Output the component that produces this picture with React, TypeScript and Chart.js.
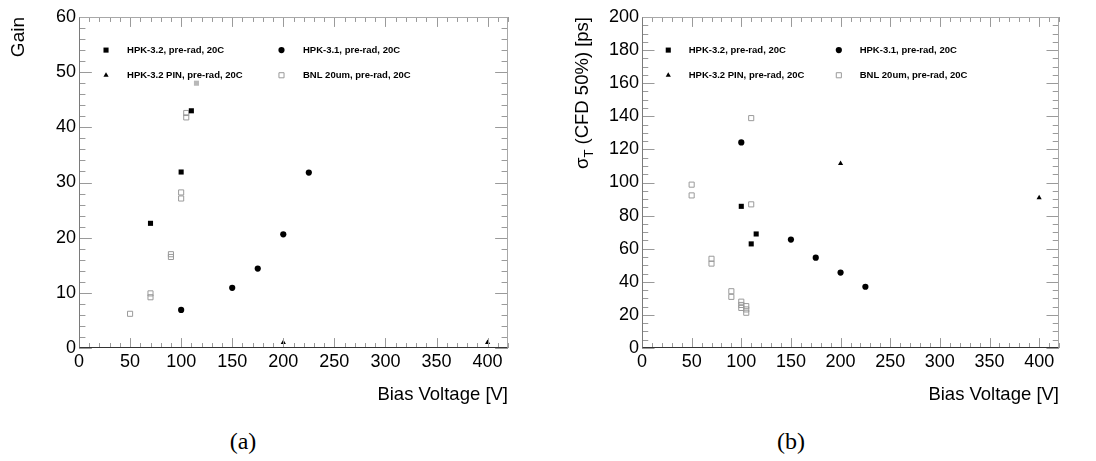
import React, { useEffect, useRef } from 'react';
import { Chart, registerables } from 'chart.js';

Chart.register(...registerables);

// ---------- Panel (a): Gain vs bias voltage ----------
const gainHpk32X = [70, 100, 110, 115];
const gainHpk32Y = [22.6, 31.9, 43.0, 48.0];
const gainHpk31X = [100, 150, 175, 200, 225];
const gainHpk31Y = [6.9, 10.9, 14.4, 20.6, 31.8];
const gainPinX = [200, 400];
const gainPinY = [1.0, 1.0];
const gainBnlX = [50, 70, 70, 90, 90, 100, 100, 105, 105];
const gainBnlY = [6.2, 9.9, 9.2, 17.0, 16.5, 28.2, 27.1, 42.6, 41.8];

// ---------- Panel (b): time resolution vs bias voltage ----------
const timeHpk32X = [100, 110, 115];
const timeHpk32Y = [85.6, 62.9, 68.9];
const timeHpk31X = [100, 150, 175, 200, 225];
const timeHpk31Y = [124.2, 65.5, 54.6, 45.6, 37.0];
const timePinX = [200, 400];
const timePinY = [111.5, 90.8];
const timeBnlX = [50, 50, 70, 70, 90, 90, 100, 100, 100, 105, 105, 105, 110, 110];
const timeBnlY = [98.7, 92.2, 53.9, 51.0, 34.3, 30.9, 28.0, 26.0, 24.2, 25.3, 23.3, 21.3, 138.9, 86.8];

// ---------- labels & ticks ----------
const seriesLabels = [
  'HPK-3.2, pre-rad, 20C',
  'HPK-3.1, pre-rad, 20C',
  'HPK-3.2 PIN, pre-rad, 20C',
  'BNL 20um, pre-rad, 20C',
];
const xTickValues = [0, 50, 100, 150, 200, 250, 300, 350, 400];
const gainTickValues = [0, 10, 20, 30, 40, 50, 60];
const timeTickValues = [0, 20, 40, 60, 80, 100, 120, 140, 160, 180, 200];
const xAxisTitle = 'Bias Voltage [V]';
const gainAxisTitle = 'Gain';
const timeAxisTitleParts = ['σ', 'T', ' (CFD 50%) [ps]'];
const panelCaptions = ['(a)', '(b)'];

const FONT = '"Liberation Sans", Arial, Helvetica, sans-serif';
Chart.defaults.font.family = FONT;

const seriesStyles = [
  { pointStyle: 'rect', radius: 3.6, fill: '#000000', stroke: '#000000', bw: 0 },
  { pointStyle: 'circle', radius: 3.1, fill: '#000000', stroke: '#000000', bw: 0 },
  { pointStyle: 'triangle', radius: 3.0, fill: '#000000', stroke: '#000000', bw: 0 },
  { pointStyle: 'rect', radius: 3.6, fill: 'rgba(0,0,0,0)', stroke: '#9a9a9a', bw: 1 },
];

const zip = (xs: number[], ys: number[]) => xs.map((x, i) => ({ x, y: ys[i] }));

function drawMarker(ctx: CanvasRenderingContext2D, s: any, x: number, y: number) {
  const r = s.radius;
  ctx.beginPath();
  if (s.pointStyle === 'rect') {
    const h = Math.SQRT1_2 * r;
    ctx.rect(x - h, y - h, 2 * h, 2 * h);
  } else if (s.pointStyle === 'circle') {
    ctx.arc(x, y, r, 0, Math.PI * 2);
  } else {
    let rad = 0;
    ctx.moveTo(x + Math.sin(rad) * r, y - Math.cos(rad) * r);
    rad += (2 * Math.PI) / 3;
    ctx.lineTo(x + Math.sin(rad) * r, y - Math.cos(rad) * r);
    rad += (2 * Math.PI) / 3;
    ctx.lineTo(x + Math.sin(rad) * r, y - Math.cos(rad) * r);
    ctx.closePath();
  }
  ctx.fillStyle = s.fill;
  ctx.fill();
  if (s.bw > 0) {
    ctx.lineWidth = s.bw;
    ctx.strokeStyle = s.stroke;
    ctx.stroke();
  }
}

const rootStylePlugin = {
  id: 'rootStyle',
  afterDatasetsDraw(chart: any, _args: any, opts: any) {
    const { ctx, chartArea: a } = chart;
    const xs = chart.scales.x;
    const ys = chart.scales.y;
    const L = a.left, R = a.right, T = a.top, B = a.bottom;
    const W = R - L, H = B - T;
    ctx.save();

    // legend box (semi-transparent, covers data beneath)
    ctx.fillStyle = 'rgba(255,255,255,0.72)';
    ctx.fillRect(L + 0.026 * W, T + 0.063 * H, (0.812 - 0.026) * W, (0.215 - 0.063) * H);
    chart.data.datasets.forEach((ds: any, i: number) => {
      const col = i % 2;
      const row = Math.floor(i / 2);
      const mx = L + [0.063, 0.472][col] * W;
      const tx = L + [0.112, 0.522][col] * W;
      const my = T + [0.1, 0.176][row] * H;
      drawMarker(ctx, seriesStyles[i], mx, my);
      ctx.fillStyle = '#000';
      ctx.font = 'bold 9.5px ' + FONT;
      ctx.textBaseline = 'middle';
      ctx.textAlign = 'left';
      ctx.fillText(ds.label, tx, my);
    });

    // inward ticks on all four sides
    ctx.lineWidth = 1;
    ctx.strokeStyle = '#9a9a9a';
    ctx.beginPath();
    const xMinorStep = 10;
    for (let i = 0; i * xMinorStep <= xs.max + 1e-9; i++) {
      const v = i * xMinorStep;
      const px = Math.round(xs.getPixelForValue(v)) + 0.5;
      const len = xTickValues.includes(v) ? 0.03 * H : 0.015 * H;
      ctx.moveTo(px, B);
      ctx.lineTo(px, B - len);
      ctx.moveTo(px, T);
      ctx.lineTo(px, T + len);
    }
    const yStep = opts.yMinorStep;
    const yMajors: number[] = opts.yMajors;
    for (let i = 0; i * yStep <= ys.max + 1e-9; i++) {
      const v = i * yStep;
      const py = Math.round(ys.getPixelForValue(v)) + 0.5;
      const len = yMajors.includes(v) ? 0.03 * W : 0.015 * W;
      ctx.moveTo(L, py);
      ctx.lineTo(L + len, py);
      ctx.moveTo(R, py);
      ctx.lineTo(R - len, py);
    }
    ctx.stroke();

    // frame
    const l = Math.round(L) + 0.5, r = Math.round(R) - 0.5, t = Math.round(T) + 0.5, b = Math.round(B) - 0.5;
    ctx.strokeStyle = '#a8a8a8';
    ctx.beginPath();
    ctx.moveTo(l, t); ctx.lineTo(r, t); ctx.lineTo(r, b);
    ctx.stroke();
    ctx.strokeStyle = '#7a7a7a';
    ctx.beginPath();
    ctx.moveTo(l, t); ctx.lineTo(l, b);
    ctx.stroke();
    ctx.strokeStyle = '#333';
    ctx.beginPath();
    ctx.moveTo(l, b); ctx.lineTo(r, b);
    ctx.stroke();

    // custom y title with subscript
    if (opts.yTitleParts) {
      const [p1, p2, p3] = opts.yTitleParts;
      const big = '18.5px ' + FONT;
      const small = '13px ' + FONT;
      ctx.font = big;
      const w1 = ctx.measureText(p1).width;
      const w3 = ctx.measureText(p3).width;
      ctx.font = small;
      const w2 = ctx.measureText(p2).width;
      const total = w1 + w2 + w3;
      ctx.translate(opts.yTitleBaselineX, T);
      ctx.rotate(-Math.PI / 2);
      ctx.fillStyle = '#000';
      ctx.textAlign = 'left';
      ctx.textBaseline = 'alphabetic';
      let x = -total;
      ctx.font = big;
      ctx.fillText(p1, x, 0);
      x += w1;
      ctx.font = small;
      ctx.fillText(p2, x, 4.5);
      x += w2;
      ctx.font = big;
      ctx.fillText(p3, x, 0);
    }
    ctx.restore();
  },
};

function makeConfig(panel: 'a' | 'b') {
  const isA = panel === 'a';
  const data = isA
    ? [zip(gainHpk32X, gainHpk32Y), zip(gainHpk31X, gainHpk31Y), zip(gainPinX, gainPinY), zip(gainBnlX, gainBnlY)]
    : [zip(timeHpk32X, timeHpk32Y), zip(timeHpk31X, timeHpk31Y), zip(timePinX, timePinY), zip(timeBnlX, timeBnlY)];
  const yTicks = isA ? gainTickValues : timeTickValues;
  return {
    type: 'scatter',
    data: {
      datasets: data.map((d, i) => ({
        label: seriesLabels[i],
        data: d,
        showLine: false,
        pointStyle: seriesStyles[i].pointStyle,
        pointRadius: seriesStyles[i].radius,
        pointHoverRadius: seriesStyles[i].radius,
        pointBackgroundColor: seriesStyles[i].fill,
        pointBorderColor: seriesStyles[i].stroke,
        pointBorderWidth: seriesStyles[i].bw,
      })),
    },
    options: {
      animation: false,
      responsive: false,
      devicePixelRatio: 1,
      layout: { padding: { left: 0, top: 17, right: isA ? 40 : 37, bottom: 0 } },
      plugins: {
        legend: { display: false },
        tooltip: { enabled: false },
        rootStyle: isA
          ? { yMinorStep: 2, yMajors: gainTickValues }
          : { yMinorStep: 5, yMajors: timeTickValues, yTitleParts: timeAxisTitleParts, yTitleBaselineX: 40 },
      },
      scales: {
        x: {
          type: 'linear',
          min: 0,
          max: 420,
          grid: { display: false, drawTicks: false },
          border: { display: false },
          afterBuildTicks: (s: any) => {
            s.ticks = xTickValues.map((v) => ({ value: v }));
          },
          afterFit: (s: any) => {
            s.height = 72;
          },
          ticks: {
            padding: 3,
            color: '#000',
            font: { size: 18 },
            maxRotation: 0,
            autoSkip: false,
            callback: (v: any) => String(v),
          },
          title: {
            display: true,
            text: xAxisTitle,
            align: 'end',
            color: '#000',
            font: { size: 18.5 },
            padding: { top: 0, bottom: 14 },
          },
        },
        y: {
          type: 'linear',
          min: 0,
          max: isA ? 60 : 200,
          grid: { display: false, drawTicks: false },
          border: { display: false },
          afterBuildTicks: (s: any) => {
            s.ticks = yTicks.map((v) => ({ value: v }));
          },
          afterFit: (s: any) => {
            s.width = isA ? 79 : 94;
          },
          ticks: {
            padding: 3,
            color: '#000',
            font: { size: 18 },
            autoSkip: false,
            callback: (v: any) => String(v),
          },
          title: {
            display: isA,
            text: gainAxisTitle,
            align: 'end',
            color: '#000',
            font: { size: 19 },
            padding: { top: 7.5, bottom: 0 },
          },
        },
      },
    },
    plugins: [rootStylePlugin],
  };
}

function Panel({ panel, left }: { panel: 'a' | 'b'; left: number }) {
  const ref = useRef<HTMLCanvasElement | null>(null);
  useEffect(() => {
    const chart = new Chart(ref.current as HTMLCanvasElement, makeConfig(panel) as any);
    return () => chart.destroy();
  }, [panel]);
  return (
    <canvas
      ref={ref}
      width={548}
      height={420}
      style={{ position: 'absolute', left, top: 0, width: 548, height: 420 }}
    />
  );
}

export default function App() {
  const captionStyle: React.CSSProperties = {
    position: 'absolute',
    top: 429,
    width: 100,
    textAlign: 'center',
    fontFamily: '"Liberation Serif", "Times New Roman", serif',
    fontSize: 24,
    lineHeight: '24px',
    color: '#000',
  };
  return (
    <div style={{ position: 'absolute', left: 0, top: 0, width: 1096, height: 461, background: '#fff', overflow: 'hidden' }}>
      <Panel panel="a" left={0} />
      <Panel panel="b" left={548} />
      <div style={{ ...captionStyle, left: 193 }}>{panelCaptions[0]}</div>
      <div style={{ ...captionStyle, left: 741 }}>{panelCaptions[1]}</div>
    </div>
  );
}
